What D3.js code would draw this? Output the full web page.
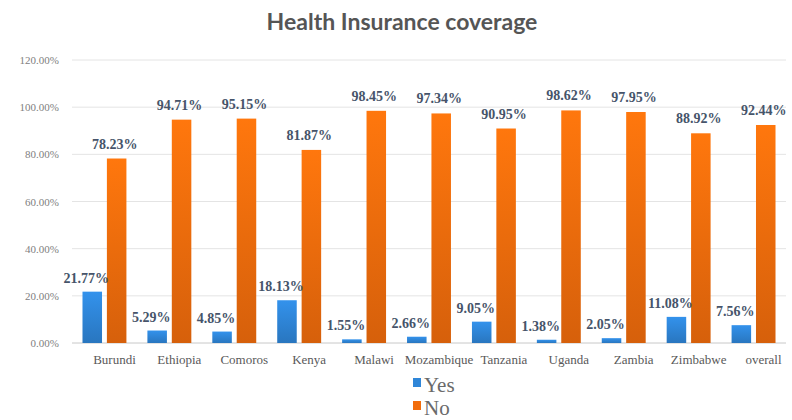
<!DOCTYPE html>
<html>
<head>
<meta charset="utf-8">
<script src="https://cdn.jsdelivr.net/npm/d3@7"></script>
<style>
  body { margin: 0; background: #fff; }
  svg { display: block; }
  .serif { font-family: "Liberation Serif", "DejaVu Serif", serif; }
</style>
</head>
<body>
<svg width="792" height="420"></svg>
<script>
// data
const countries = ["Burundi", "Ethiopia", "Comoros", "Kenya", "Malawi", "Mozambique",
                   "Tanzania", "Uganda", "Zambia", "Zimbabwe", "overall"];
const yesValues = [21.77, 5.29, 4.85, 18.13, 1.55, 2.66, 9.05, 1.38, 2.05, 11.08, 7.56];
const noValues  = [78.23, 94.71, 95.15, 81.87, 98.45, 97.34, 90.95, 98.62, 97.95, 88.92, 92.44];
const seriesNames = ["Yes", "No"];
const yTicks = [0, 20, 40, 60, 80, 100, 120];

const colors = {Yes: "#2f86d8", No: "#f26d0c"};

const width = 792, height = 420;
const margin = {top: 60, right: 6, bottom: 77, left: 72};
const plotW = width - margin.left - margin.right,
      plotH = height - margin.top - margin.bottom;

const rows = countries.map((c, i) => ({country: c, Yes: yesValues[i], No: noValues[i]}));

const svg = d3.select("svg");

// gradients similar to the office look
const defs = svg.append("defs");
seriesNames.forEach(s => {
    const base = d3.color(colors[s]);
    const grad = defs.append("linearGradient")
        .attr("id", "grad" + s)
        .attr("x1", 0).attr("y1", 0).attr("x2", 0).attr("y2", 1);
    grad.append("stop").attr("offset", "0%").attr("stop-color", base.brighter(0.25));
    grad.append("stop").attr("offset", "100%").attr("stop-color", base.darker(0.35));
});

// title
svg.append("text")
    .attr("x", 402)
    .attr("y", 30)
    .attr("text-anchor", "middle")
    .style("font-family", "Lato, 'Open Sans', sans-serif")
    .attr("font-weight", "bold")
    .attr("font-size", "23px")
    .attr("fill", "#555555")
    .text("Health Insurance coverage");

const g = svg.append("g")
    .attr("transform", `translate(${margin.left}, ${margin.top})`);

const x0 = d3.scaleBand()
    .domain(countries)
    .range([0, plotW])
    .padding(0);

const x1 = d3.scaleBand()
    .domain(seriesNames)
    .range([0, x0.bandwidth()])
    .paddingInner(0.2)
    .paddingOuter(0.43);

const y = d3.scaleLinear()
    .domain([0, 120])
    .range([plotH, 0]);

// gridlines
g.append("g")
    .selectAll("line")
    .data(yTicks)
    .enter().append("line")
    .attr("x1", 0)
    .attr("x2", plotW)
    .attr("y1", d => y(d))
    .attr("y2", d => y(d))
    .attr("stroke", d => d === 0 ? "#c8c8c8" : "#e4e4e4")
    .attr("stroke-width", 1);

// Y ticks
const yAxisCall = d3.axisLeft(y)
    .tickValues(yTicks)
    .tickSize(0)
    .tickPadding(13)
    .tickFormat(d => d.toFixed(2) + "%");
const yAxis = g.append("g").call(yAxisCall);
yAxis.select(".domain").remove();
yAxis.attr("font-family", null);
yAxis.selectAll("text")
    .attr("class", "serif")
    .attr("font-size", "11px")
    .attr("fill", "#808080");

// X ticks
const xAxisCall = d3.axisBottom(x0).tickSize(0).tickPadding(12);
const xAxis = g.append("g")
    .attr("transform", `translate(0, ${plotH})`)
    .call(xAxisCall);
xAxis.select(".domain").remove();
xAxis.attr("font-family", null);
xAxis.selectAll("text")
    .attr("class", "serif")
    .attr("dx", 10)
    .attr("font-size", "13px")
    .attr("fill", "#595959");

// bars
const groups = g.selectAll(".grp").data(rows)
    .enter().append("g")
    .attr("class", "grp")
    .attr("transform", d => `translate(${x0(d.country)}, 0)`);

groups.selectAll("rect")
    .data(d => seriesNames.map(s => ({series: s, value: d[s]})))
    .enter().append("rect")
    .attr("x", d => x1(d.series))
    .attr("y", d => y(d.value))
    .attr("width", x1.bandwidth())
    .attr("height", d => plotH - y(d.value))
    .attr("fill", d => `url(#grad${d.series})`);

// data labels
groups.selectAll(".lbl")
    .data(d => seriesNames.map(s => ({series: s, value: d[s]})))
    .enter().append("text")
    .attr("class", "lbl serif")
    .attr("x", d => x1(d.series) + x1.bandwidth() / 2 + (d.series === "Yes" ? -6 : -2))
    .attr("y", d => y(d.value) - (d.series === "Yes" ? 9 : 10))
    .attr("text-anchor", "middle")
    .attr("font-size", "14px")
    .attr("font-weight", "bold")
    .attr("fill", "#46546a")
    .text(d => d.value.toFixed(2) + "%");

// legend
const legend = svg.append("g")
    .attr("transform", "translate(413, 392)");
const items = legend.selectAll("g").data(seriesNames)
    .enter().append("g")
    .attr("transform", (d, i) => `translate(0, ${i * 23})`);
items.append("rect")
    .attr("y", -14)
    .attr("width", 8)
    .attr("height", 9)
    .attr("fill", d => colors[d]);
items.append("text")
    .attr("x", 11)
    .attr("y", 0)
    .style("font-family", "'Liberation Serif', 'DejaVu Serif', serif")
    .attr("font-size", "21px")
    .attr("fill", "#6a6a6a")
    .text(d => d);
</script>
</body>
</html>
